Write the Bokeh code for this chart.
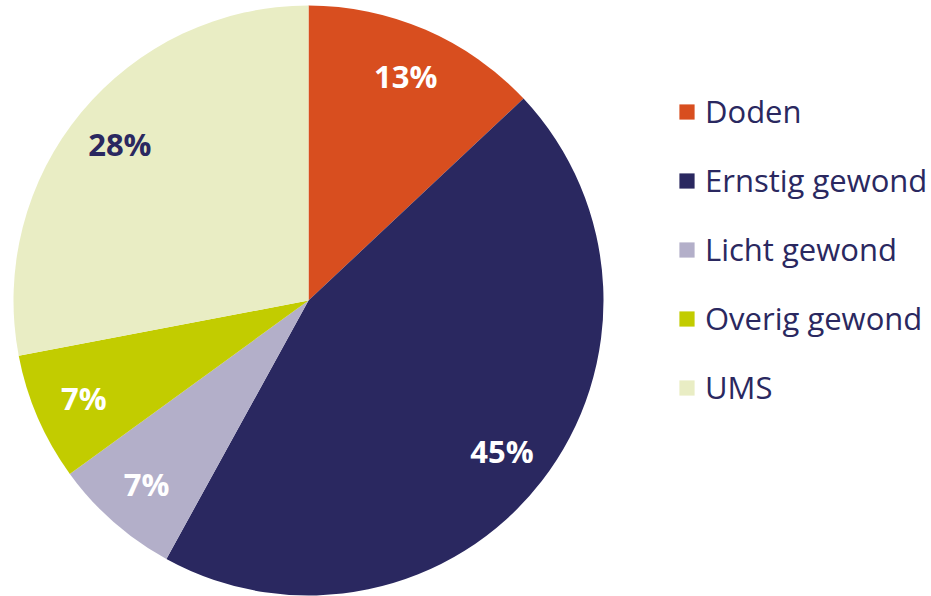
import math
from bokeh.plotting import figure
from bokeh.models import ColumnDataSource, Range1d, Legend, LegendItem
from bokeh.core.properties import value
from bokeh.embed import file_html
from bokeh.resources import INLINE

categories = ["Doden", "Ernstig gewond", "Licht gewond", "Overig gewond", "UMS"]
shares = [13, 45, 7, 7, 28]
labels = ["13%", "45%", "7%", "7%", "28%"]
colors = ["#D84E1F", "#2A2860", "#B3AFC9", "#C2CC00", "#E9EDC4"]
label_colors = ["white", "white", "white", "white", "#2A2860"]

W, H = 931, 596
cx, cy, R = 308, 296, 295
label_frac = 0.83

total = sum(shares)
starts, ends, lx, ly = [], [], [], []
cum = 0
for s in shares:
    a0 = math.pi / 2 - 2 * math.pi * cum / total
    a1 = math.pi / 2 - 2 * math.pi * (cum + s) / total
    starts.append(a0)
    ends.append(a1)
    mid = (a0 + a1) / 2
    lx.append(cx + label_frac * R * math.cos(mid))
    ly.append(cy + label_frac * R * math.sin(mid))
    cum += s

p = figure(width=W, height=H, output_backend="svg", toolbar_location=None,
           x_range=Range1d(0, W), y_range=Range1d(0, H), min_border=0)
p.axis.visible = False
p.grid.visible = False
p.outline_line_color = None
p.background_fill_color = "white"

renderers = []
for i, c in enumerate(categories):
    src = ColumnDataSource(dict(x=[cx], y=[cy], s=[starts[i]], e=[ends[i]]))
    r = p.wedge(x="x", y="y", radius=R, start_angle="s", end_angle="e",
                direction="clock", fill_color=colors[i], line_color=None, source=src)
    renderers.append(r)

tsrc = ColumnDataSource(dict(x=lx, y=ly, t=labels, c=label_colors))
p.text(x="x", y="y", text="t", text_color="c", text_align="center",
       text_baseline="middle", text_font=value("Open Sans"),
       text_font_style="bold", text_font_size="31px", source=tsrc)

legend = Legend(items=[LegendItem(label=c, renderers=[r]) for c, r in zip(categories, renderers)],
                location=(677, 188))
legend.label_text_font = "Open Sans"
legend.label_text_font_size = "31px"
legend.label_text_color = "#2A2860"
legend.glyph_width = 19
legend.glyph_height = 19
legend.label_standoff = 9
legend.spacing = 27
legend.padding = 0
legend.margin = 0
legend.border_line_color = None
legend.background_fill_alpha = 0
p.add_layout(legend, "center")

open("out.html", "w").write(file_html(p, INLINE))
